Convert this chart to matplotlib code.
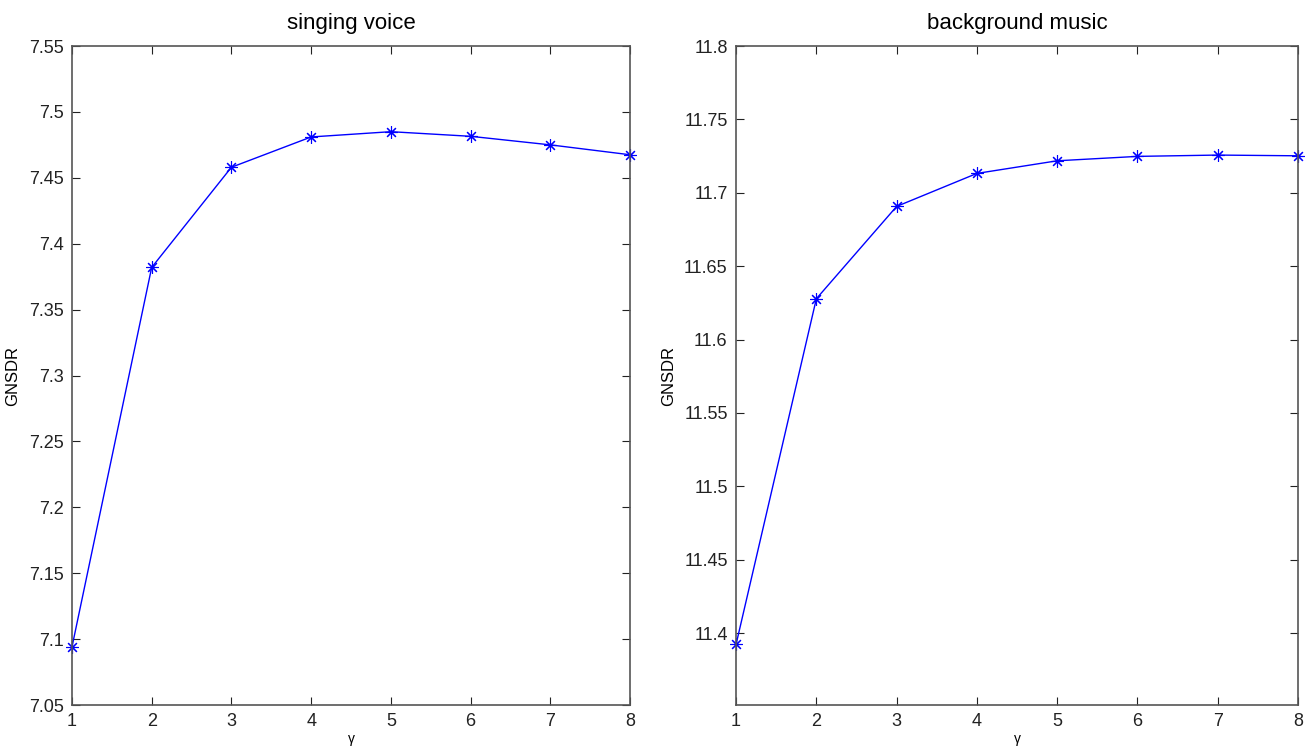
import numpy as np
import matplotlib
matplotlib.use("Agg")
import matplotlib.pyplot as plt

plt.rcParams['font.family'] = ['Liberation Sans', 'DejaVu Sans']

gamma = [1, 2, 3, 4, 5, 6, 7, 8]
voice_gnsdr = [7.094, 7.382, 7.458, 7.481, 7.485, 7.4815, 7.475, 7.4675]
music_gnsdr = [11.3923, 11.6278, 11.6907, 11.7132, 11.7218, 11.7248, 11.7257, 11.7252]

fig = plt.figure(figsize=(13.06, 7.47), dpi=100)
ax1 = fig.add_axes([0.0551, 0.0562, 0.4273, 0.8822])
ax2 = fig.add_axes([0.5636, 0.0562, 0.4303, 0.8822])

panels = [
    (ax1, voice_gnsdr, "singing voice", (7.05, 7.55), np.arange(7.05, 7.551, 0.05)),
    (ax2, music_gnsdr, "background music", (11.351, 11.8), np.arange(11.4, 11.801, 0.05)),
]

# matlab style asterisk marker
ast = (8, 2, 0)

for ax, vals, title, ylim, yticks in panels:
    ax.plot(gamma, vals, color="blue", linewidth=1, marker=ast, markersize=9,
            markeredgewidth=0.8, clip_on=False)
    ax.set_xlim(1, 8)
    ax.set_ylim(*ylim)
    ax.set_xticks(gamma)
    ax.set_yticks(yticks)
    ax.set_yticklabels(["%g" % round(t, 2) for t in yticks])
    ax.tick_params(direction="in", length=6, width=0.8, labelsize=13,
                   top=True, right=True, pad=6, colors="#222222")
    for s in ax.spines.values():
        s.set_color("#555555")
        s.set_linewidth(1.2)
    ax.set_title(title, fontsize=16, pad=12)
    ax.set_xlabel("γ", fontsize=10, labelpad=1)
    ax.set_ylabel("GNSDR", fontsize=12, labelpad=6)

fig.savefig("out.png", dpi=100)
